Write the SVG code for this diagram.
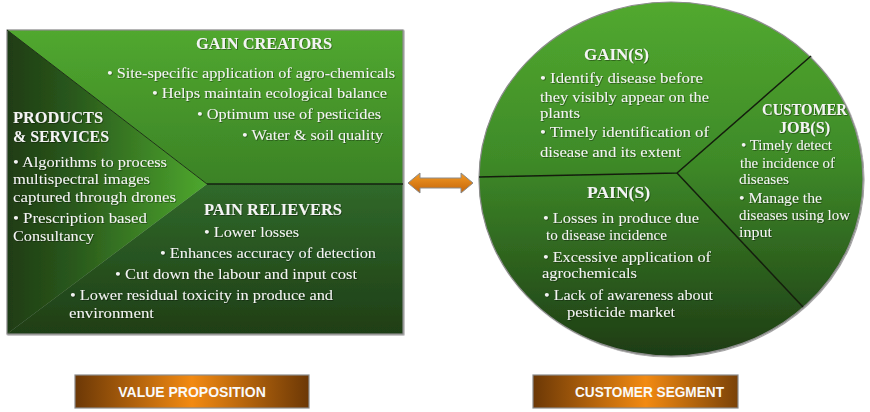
<svg xmlns="http://www.w3.org/2000/svg" width="870" height="412" viewBox="0 0 870 412">
  <defs>
    <linearGradient id="gainFill" x1="0" y1="0" x2="0" y2="1">
      <stop offset="0" stop-color="#51a82f"/>
      <stop offset="1" stop-color="#3b8226"/>
    </linearGradient>
    <linearGradient id="painFill" x1="0" y1="0" x2="0" y2="1">
      <stop offset="0" stop-color="#30692a"/>
      <stop offset="1" stop-color="#1f3e16"/>
    </linearGradient>
    <linearGradient id="prodFill" x1="0" y1="0" x2="1" y2="0">
      <stop offset="0" stop-color="#1f3c14"/>
      <stop offset="0.35" stop-color="#2a5a1c"/>
      <stop offset="1" stop-color="#4ea82e"/>
    </linearGradient>
    <linearGradient id="circleFill" x1="0" y1="0" x2="0" y2="1">
      <stop offset="0" stop-color="#52a92f"/>
      <stop offset="0.45" stop-color="#3e8a28"/>
      <stop offset="1" stop-color="#1e3c15"/>
    </linearGradient>
    <linearGradient id="labelFill" x1="0" y1="0" x2="1" y2="0">
      <stop offset="0" stop-color="#6c3806"/>
      <stop offset="0.5" stop-color="#f28a12"/>
      <stop offset="1" stop-color="#6c3806"/>
    </linearGradient>
    <linearGradient id="labelFill2" x1="0" y1="0" x2="1" y2="0">
      <stop offset="0" stop-color="#6c3806"/>
      <stop offset="0.55" stop-color="#f28a12"/>
      <stop offset="1" stop-color="#7a4208"/>
    </linearGradient>
    <linearGradient id="arrowFill" x1="0" y1="0" x2="0" y2="1">
      <stop offset="0" stop-color="#f39a25"/>
      <stop offset="1" stop-color="#c4650a"/>
    </linearGradient>
    <filter id="soft" x="-5%" y="-20%" width="110%" height="140%">
      <feDropShadow dx="0.8" dy="0.8" stdDeviation="0.6" flood-color="#000" flood-opacity="0.45"/>
    </filter>
  </defs>
  <style>
    .t { font-family: "Liberation Serif", "DejaVu Serif", serif; font-size: 15px; fill: #f4f4f4; }
    .h { font-family: "Liberation Serif", "DejaVu Serif", serif; font-size: 16px; font-weight: bold; fill: #f4f4f4; }
    .lbl { font-family: "Liberation Sans", Arial, sans-serif; font-size: 14px; font-weight: bold; fill: #fafafa; }
    .div { stroke: #141f0e; stroke-width: 1.5; fill: none; }
    .edge { stroke: #8c8c8c; stroke-width: 1.2; }
  </style>

  <!-- value proposition square -->
  <g id="value-proposition" filter="url(#soft)">
    <path d="M7,30 L403,30 L403,184 L207,184 Z" fill="url(#gainFill)"/>
    <path d="M207,184 L403,184 L403,334 L7,334 Z" fill="url(#painFill)"/>
    <path d="M7,30 L207,184 L7,334 Z" fill="url(#prodFill)"/>
    <rect x="7" y="30" width="396" height="304" fill="none" class="edge"/>
    <line x1="7" y1="30" x2="207" y2="184" stroke="#1d3313" stroke-width="1"/>
    <line x1="207" y1="184" x2="403" y2="184" class="div"/>
  </g>

  <g id="gain-creators" filter="url(#soft)">
    <text class="h" x="196" y="49" textLength="136" lengthAdjust="spacingAndGlyphs">GAIN CREATORS</text>
    <text class="t" x="107" y="78" textLength="288" lengthAdjust="spacingAndGlyphs">• Site-specific application of agro-chemicals</text>
    <text class="t" x="152" y="98" textLength="235" lengthAdjust="spacingAndGlyphs">• Helps maintain ecological balance</text>
    <text class="t" x="197" y="119" textLength="184" lengthAdjust="spacingAndGlyphs">• Optimum use of pesticides</text>
    <text class="t" x="242" y="140" textLength="141" lengthAdjust="spacingAndGlyphs">• Water &amp; soil quality</text>
  </g>

  <g id="products-services" filter="url(#soft)">
    <text class="h" x="13" y="123" textLength="90" lengthAdjust="spacingAndGlyphs">PRODUCTS</text>
    <text class="h" x="13" y="142" textLength="96" lengthAdjust="spacingAndGlyphs">&amp; SERVICES</text>
    <text class="t" x="13" y="167" textLength="154" lengthAdjust="spacingAndGlyphs">• Algorithms to process</text>
    <text class="t" x="13" y="184" textLength="137" lengthAdjust="spacingAndGlyphs">multispectral images</text>
    <text class="t" x="13" y="202" textLength="163" lengthAdjust="spacingAndGlyphs">captured through drones</text>
    <text class="t" x="13" y="223" textLength="134" lengthAdjust="spacingAndGlyphs">• Prescription based</text>
    <text class="t" x="13" y="241" textLength="81" lengthAdjust="spacingAndGlyphs">Consultancy</text>
  </g>

  <g id="pain-relievers" filter="url(#soft)">
    <text class="h" x="204" y="215" textLength="138" lengthAdjust="spacingAndGlyphs">PAIN RELIEVERS</text>
    <text class="t" x="204" y="237" textLength="95" lengthAdjust="spacingAndGlyphs">• Lower losses</text>
    <text class="t" x="160" y="258" textLength="216" lengthAdjust="spacingAndGlyphs">• Enhances accuracy of detection</text>
    <text class="t" x="115" y="279" textLength="242" lengthAdjust="spacingAndGlyphs">• Cut down the labour and input cost</text>
    <text class="t" x="70" y="300" textLength="263" lengthAdjust="spacingAndGlyphs">• Lower residual toxicity in produce and</text>
    <text class="t" x="69" y="318" textLength="85" lengthAdjust="spacingAndGlyphs">environment</text>
  </g>

  <!-- customer segment circle -->
  <g id="customer-segment" filter="url(#soft)">
    <ellipse cx="671" cy="179" rx="192" ry="177" fill="url(#circleFill)" class="edge"/>
    <path d="M479,177 L677,173 L811,56" class="div"/>
    <line x1="677" y1="173" x2="803" y2="307" class="div"/>
  </g>

  <g id="gains" filter="url(#soft)">
    <text class="h" x="584" y="60" textLength="65" lengthAdjust="spacingAndGlyphs">GAIN(S)</text>
    <text class="t" x="540" y="83" textLength="163" lengthAdjust="spacingAndGlyphs">•  Identify disease before</text>
    <text class="t" x="540" y="102" textLength="169" lengthAdjust="spacingAndGlyphs">they visibly appear on the</text>
    <text class="t" x="540" y="118" textLength="40" lengthAdjust="spacingAndGlyphs">plants</text>
    <text class="t" x="540" y="137" textLength="169" lengthAdjust="spacingAndGlyphs">•  Timely identification of</text>
    <text class="t" x="540" y="157" textLength="141" lengthAdjust="spacingAndGlyphs">disease and its extent</text>
  </g>

  <g id="customer-jobs" filter="url(#soft)">
    <text class="h" x="762" y="115" textLength="85" lengthAdjust="spacingAndGlyphs">CUSTOMER</text>
    <text class="h" x="779" y="133" textLength="51" lengthAdjust="spacingAndGlyphs">JOB(S)</text>
    <text class="t" x="741" y="150" textLength="91" lengthAdjust="spacingAndGlyphs">• Timely detect</text>
    <text class="t" x="740" y="168" textLength="95" lengthAdjust="spacingAndGlyphs">the incidence of</text>
    <text class="t" x="739" y="184" textLength="50" lengthAdjust="spacingAndGlyphs">diseases</text>
    <text class="t" x="739" y="203" textLength="83" lengthAdjust="spacingAndGlyphs">• Manage the</text>
    <text class="t" x="739" y="220" textLength="111" lengthAdjust="spacingAndGlyphs">diseases using low</text>
    <text class="t" x="739" y="237" textLength="33" lengthAdjust="spacingAndGlyphs">input</text>
  </g>

  <g id="pains" filter="url(#soft)">
    <text class="h" x="587" y="198" textLength="63" lengthAdjust="spacingAndGlyphs">PAIN(S)</text>
    <text class="t" x="543" y="223" textLength="156" lengthAdjust="spacingAndGlyphs">• Losses in produce due</text>
    <text class="t" x="546" y="240" textLength="121" lengthAdjust="spacingAndGlyphs">to disease incidence</text>
    <text class="t" x="543" y="262" textLength="168" lengthAdjust="spacingAndGlyphs">• Excessive application of</text>
    <text class="t" x="542" y="278" textLength="95" lengthAdjust="spacingAndGlyphs">agrochemicals</text>
    <text class="t" x="544" y="300" textLength="169" lengthAdjust="spacingAndGlyphs">• Lack of awareness about</text>
    <text class="t" x="567" y="317" textLength="108" lengthAdjust="spacingAndGlyphs">pesticide market</text>
  </g>

  <!-- connector between the two canvases -->
  <g id="connectors">
    <polygon points="408,183 420,173 420,178 461,178 461,173 473,183 461,193 461,188 420,188 420,193" fill="url(#arrowFill)" stroke="#8a8a8a" stroke-width="1"/>
  </g>

  <!-- caption bars -->
  <g id="label-value-proposition">
    <rect x="75" y="375" width="234" height="33" fill="url(#labelFill)" class="edge"/>
    <text class="lbl" x="192" y="397" text-anchor="middle">VALUE PROPOSITION</text>
  </g>
  <g id="label-customer-segment">
    <rect x="533" y="375" width="205" height="33" fill="url(#labelFill2)" class="edge"/>
    <text class="lbl" x="575" y="397" textLength="149" lengthAdjust="spacingAndGlyphs">CUSTOMER SEGMENT</text>
  </g>
</svg>
